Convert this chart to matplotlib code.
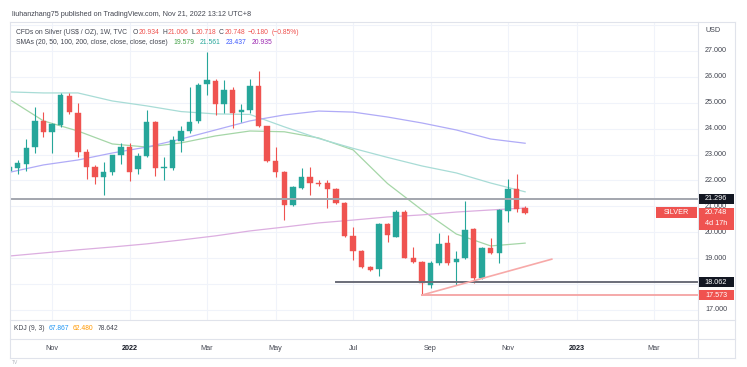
import matplotlib
matplotlib.use("Agg")
import matplotlib.pyplot as plt
from matplotlib.lines import Line2D
from matplotlib.patches import Rectangle
from matplotlib.transforms import blended_transform_factory
import numpy as np

plt.rcParams['font.family'] = ['Liberation Sans', 'DejaVu Sans']

# ---------------- data (weekly candles, Sep 27 2021 .. Nov 21 2022) ----------------
opens = [22.38, 22.49, 22.64, 23.28, 24.31, 23.86, 24.14, 25.27, 24.59, 23.11,
         22.53, 22.15, 22.34, 22.98, 23.28, 22.44, 22.95, 24.27, 22.47, 22.49,
         23.54, 23.92, 24.30, 25.71, 25.85, 24.95, 25.49, 24.63, 24.72, 25.65,
         24.10, 22.76, 22.34, 21.05, 21.72, 22.12, 21.92, 21.89, 21.66, 21.12,
         19.86, 19.29, 18.67, 18.57, 20.31, 19.83, 20.80, 19.02, 18.86, 17.97,
         18.80, 19.58, 18.84, 19.00, 20.12, 18.25, 19.40, 19.19, 20.83, 21.67,
         20.934]
highs = [22.60, 22.79, 23.59, 24.85, 24.63, 24.20, 25.39, 25.39, 24.98, 23.20,
         22.60, 22.73, 23.00, 23.44, 23.44, 23.05, 24.72, 24.30, 22.92, 23.70,
         24.10, 25.62, 25.75, 26.97, 25.90, 25.88, 25.62, 24.95, 25.91, 26.24,
         24.12, 23.28, 22.36, 21.80, 22.47, 22.51, 22.00, 22.02, 21.70, 21.15,
         20.19, 19.32, 18.70, 20.37, 20.35, 20.85, 20.86, 19.42, 18.90, 18.90,
         19.98, 19.90, 19.28, 21.21, 20.15, 19.42, 19.77, 20.90, 22.05, 22.25,
         21.006]
lows = [22.30, 22.24, 22.38, 23.05, 23.69, 23.05, 24.08, 24.58, 22.90, 22.06,
        21.86, 21.44, 22.21, 22.64, 21.99, 22.24, 22.90, 22.17, 22.02, 22.40,
        23.11, 23.85, 24.21, 25.30, 24.53, 24.59, 24.02, 24.27, 24.60, 24.05,
        22.70, 22.12, 20.48, 21.00, 21.68, 21.44, 21.80, 20.93, 21.08, 19.80,
        18.93, 18.60, 18.50, 18.31, 19.64, 19.80, 19.00, 18.80, 17.58, 17.84,
        18.75, 18.75, 17.97, 18.95, 18.05, 18.20, 19.15, 18.83, 20.39, 20.77,
        20.718]
closes = [22.51, 22.66, 23.27, 24.31, 23.86, 24.17, 25.31, 24.63, 23.11, 22.53,
          22.15, 22.34, 22.98, 23.31, 22.34, 22.95, 24.27, 22.47, 22.53, 23.56,
          23.92, 24.27, 25.69, 25.88, 24.95, 25.49, 24.62, 24.72, 25.65, 24.10,
          22.76, 22.34, 21.05, 21.74, 22.12, 21.92, 21.87, 21.66, 21.12, 19.86,
          19.29, 18.67, 18.54, 20.31, 19.90, 20.80, 19.02, 18.86, 18.03, 18.80,
          19.55, 18.80, 18.97, 20.09, 18.25, 19.38, 19.21, 20.86, 21.67, 20.90,
          20.748]

# moving averages read every 4 bars
sma_idx = [0, 4, 8, 12, 16, 20, 24, 28, 32, 36, 40, 44, 48, 52, 56, 60]
sma20 = [25.14, 24.30, 23.91, 23.41, 23.29, 23.45, 23.72, 23.91, 23.88, 23.64,
         23.18, 21.88, 20.86, 19.93, 19.47, 19.579]
sma50 = [25.42, 25.38, 25.38, 25.07, 24.88, 24.66, 24.57, 24.55, 24.07, 23.62,
         23.24, 22.89, 22.56, 22.29, 21.90, 21.561]
sma100 = [22.31, 22.60, 22.79, 23.06, 23.29, 23.60, 23.95, 24.30, 24.53, 24.68,
          24.64, 24.45, 24.22, 23.95, 23.60, 23.437]
sma200 = [19.08, 19.20, 19.32, 19.43, 19.55, 19.70, 19.86, 20.05, 20.20, 20.36,
          20.47, 20.59, 20.67, 20.78, 20.86, 20.935]

# drawings
hline_gray = 21.296
hline_black = 18.062
hline_black_start = 38
hline_red = 17.573
hline_red_start = 48
trend_x = [48, 63.1]
trend_y = [17.573, 18.96]

price_ticks = [17, 19, 20, 21, 22, 23, 24, 25, 26, 27]
month_labels = ["Nov", "2022", "Mar", "May", "Jul", "Sep", "Nov", "2023", "Mar"]
month_pos = [5, 14, 23, 31, 40, 49, 58, 66, 75]

UP = '#26a69a'
DN = '#ef5350'
W, H = 747, 367

def fx(px):
    return px / W

def fy(py):
    return 1 - py / H

fig = plt.figure(figsize=(W / 100, H / 100), dpi=100)
fig.patch.set_facecolor('white')
ax = fig.add_axes([fx(10), fy(320), (698 - 10) / W, (320 - 22) / H])
ax.set_xlim(0.105, 80.1)
ax.set_ylim(16.61, 28.12)
ax.axis('off')

# grid
for p in list(range(17, 29)):
    ax.axhline(p, color='#f0f3fa', lw=0.8, zorder=0)
for m in month_pos:
    ax.axvline(m, color='#f0f3fa', lw=0.8, zorder=0)

x = np.arange(len(opens))
o = np.array(opens); c = np.array(closes); hi = np.array(highs); lo = np.array(lows)
cols = np.where(c >= o, UP, DN)
ax.vlines(x, lo, hi, colors=cols, lw=0.8, zorder=3)
bottoms = np.minimum(o, c)
heights = np.maximum(np.abs(c - o), 0.04)
ax.bar(x, heights, bottom=bottoms, width=0.64, color=cols, edgecolor=cols, lw=0.3, zorder=4)

# SMAs
ax.plot(sma_idx, sma20, color='#a5d6a7', lw=0.9, zorder=2)
ax.plot(sma_idx, sma50, color='#a8dcd6', lw=0.9, zorder=2)
ax.plot(sma_idx, sma100, color='#b0abf7', lw=0.9, zorder=2)
ax.plot(sma_idx, sma200, color='#dcaee0', lw=0.9, zorder=2)

# drawings
ax.axhline(hline_gray, color='#a3a6ae', lw=1.4, zorder=5)
ax.plot([hline_black_start, 80.1], [hline_black] * 2, color='#6a6d78', lw=1.4, zorder=5)
ax.plot([hline_red_start, 80.1], [hline_red] * 2, color='#f5a3a2', lw=1.3, zorder=5)
ax.plot(trend_x, trend_y, color='#f7a9a8', lw=1.2, zorder=5)

# frame
def fline(x0, y0, x1, y1, color='#e0e3eb', lw=0.8):
    fig.add_artist(Line2D([fx(x0), fx(x1)], [fy(y0), fy(y1)], transform=fig.transFigure,
                          color=color, lw=lw))

fline(10, 22, 735, 22)
fline(10, 358, 735, 358)
fline(10, 22, 10, 358)
fline(735, 22, 735, 358)
fline(698, 22, 698, 358)
fline(10, 320, 735, 320)
fline(10, 339, 735, 339)

FS = 5.2
LFS = 4.9
DARK = '#131722'
TXT = '#434651'
tr = blended_transform_factory(fig.transFigure, ax.transData)
renderer = fig.canvas.get_renderer()

def seq_text(x_px, y_px, pieces, fs, gap_px=3.0):
    """Place text pieces one after another on a line."""
    cur = x_px
    for s, col, gap in pieces:
        t = fig.text(fx(cur), fy(y_px), s, ha='left', va='center', fontsize=fs, color=col)
        bb = t.get_window_extent(renderer=renderer)
        cur = bb.x1 + (gap if gap is not None else gap_px)
    return cur

# right axis labels
for p in price_ticks:
    fig.text(fx(716), p, f"{p:.3f}", transform=tr, ha='center', va='center',
             fontsize=FS, color=TXT, zorder=3)
fig.text(fx(713), fy(30), "USD", ha='center', va='center', fontsize=FS, color=TXT)

ppx = (320 - 22) / (28.12 - 16.61)

def axis_box(price, h_px, fc, label):
    h = h_px / ppx
    fig.add_artist(Rectangle((fx(699), price - h / 2), fx(734) - fx(699), h,
                             transform=tr, facecolor=fc, edgecolor='none', zorder=10))
    fig.text(fx(716), price, label, transform=tr, ha='center', va='center',
             fontsize=FS, color='white', zorder=11)

axis_box(hline_gray, 10, DARK, "21.296")
# 20.748 box (two lines)
last = closes[-1]
fig.add_artist(Rectangle((fx(699), last - 17 / ppx), fx(734) - fx(699), 22 / ppx,
                         transform=tr, facecolor=DN, edgecolor='none', zorder=10))
fig.text(fx(716), last, f"{last:.3f}", transform=tr, ha='center', va='center',
         fontsize=FS, color='white', zorder=11)
fig.text(fx(716), last - 10.5 / ppx, "4d 17h", transform=tr, ha='center', va='center',
         fontsize=FS, color='white', zorder=11)
# SILVER label
fig.add_artist(Rectangle((fx(656), last - 5.5 / ppx), fx(697) - fx(656), 11 / ppx,
                         transform=tr, facecolor=DN, edgecolor='none', zorder=10))
fig.text(fx(676.5), last, "SILVER", transform=tr, ha='center', va='center',
         fontsize=FS, color='white', zorder=11)
axis_box(hline_black, 10, DARK, "18.062")
axis_box(hline_red, 10, '#f0524f', "17.573")

# time axis labels
trx = blended_transform_factory(ax.transData, fig.transFigure)
for lab, pos in zip(month_labels, month_pos):
    bold = lab.isdigit()
    fig.text(pos, fy(349), lab, transform=trx, ha='center', va='center', fontsize=FS,
             color=DARK if bold else TXT, fontweight='bold' if bold else 'normal')

# header
fig.text(fx(12), fy(15), "liuhanzhang75 published on TradingView.com, Nov 21, 2022 13:12 UTC+8",
         ha='left', va='center', fontsize=FS, color=TXT)

# legend line 1
seq_text(16, 32, [("CFDs on Silver (US$ / OZ), 1W, TVC", TXT, 6),
                  ("O", TXT, 0.3), ("20.934", DN, 3),
                  ("H", TXT, 0.3), ("21.006", DN, 3),
                  ("L", TXT, 0.3), ("20.718", DN, 3),
                  ("C", TXT, 0.3), ("20.748", DN, 3),
                  ("\u22120.180", DN, 2.5), ("(\u22120.85%)", DN, 0)], LFS)

# legend line 2
seq_text(16, 43, [("SMAs (20, 50, 100, 200, close, close, close, close)", TXT, 6),
                  ("19.579", '#43a047', 5), ("21.561", '#26a69a', 5),
                  ("23.437", '#3d5afe', 5), ("20.935", '#9c27b0', 0)], LFS)

# KDJ pane
seq_text(14, 328, [("KDJ (9, 3)", TXT, 4), ("67.867", '#2196f3', 4),
                   ("62.480", '#ff9800', 4), ("78.642", TXT, 0)], LFS)

fig.text(fx(12), fy(363), "TV", ha='left', va='center', fontsize=3.5, color='#b2b5be')

fig.savefig("out.png", dpi=100, facecolor='white')
